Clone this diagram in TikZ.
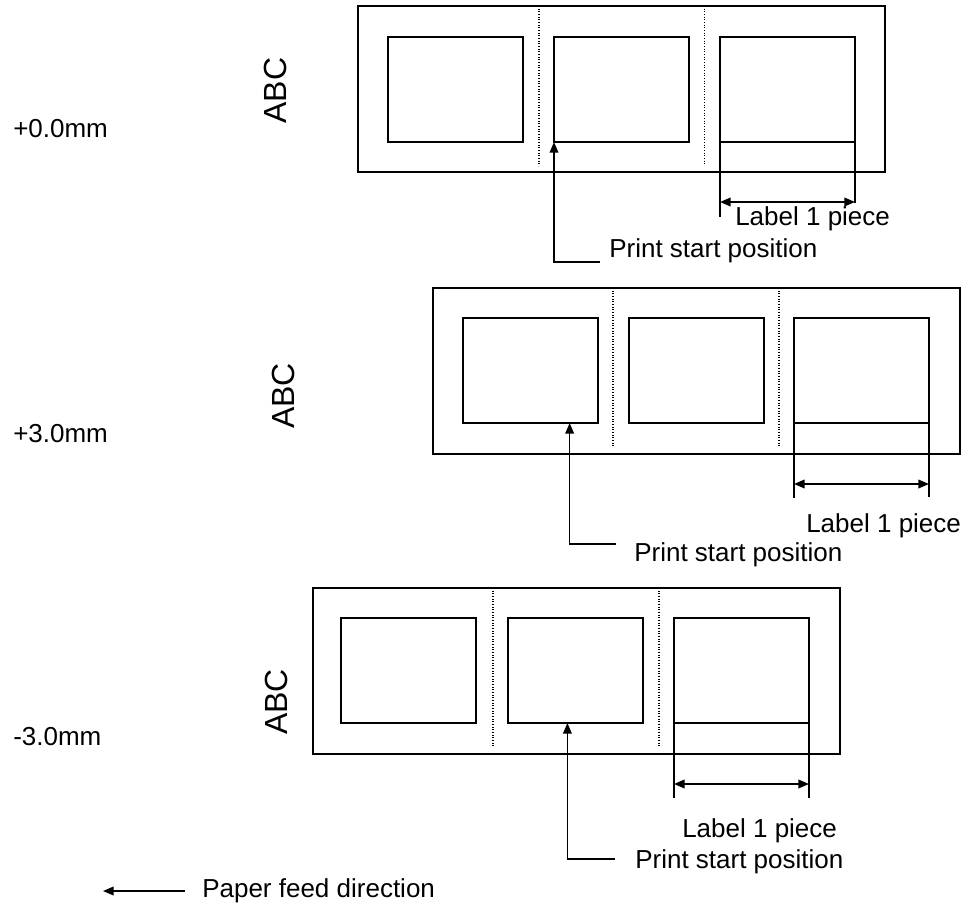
\documentclass[tikz,border=0pt]{standalone}
\usepackage{fontspec}
\setmainfont{Liberation Sans}
\usetikzlibrary{arrows.meta,calc}
\begin{document}
\begin{tikzpicture}[x=0.75pt,y=-0.75pt,
    strip/.style={draw,line width=1.5pt,anchor=north west,inner sep=0,outer sep=0,minimum width=395.25pt,minimum height=124.5pt},
    lbl/.style={draw,line width=1.5pt,anchor=north west,inner sep=0,outer sep=0,minimum width=101.25pt,minimum height=78.75pt},
    perf/.style={line width=0.8pt,dash pattern=on 0.8pt off 1.2pt},
    ext/.style={line width=1.2pt},
    pointer/.style={line width=1.2pt,-{Triangle[length=8pt,width=6.5pt]}},
    dimarrow/.style={line width=1.2pt,{Triangle[length=8pt,width=6.5pt]}-{Triangle[length=8pt,width=6.5pt]}},
    txt/.style={font=\fontsize{19.5}{23}\selectfont,inner sep=0,anchor=base west},
    abc/.style={font=\fontsize{24}{28}\selectfont,inner sep=0,rotate=90}]
  \useasboundingbox (0,0) rectangle (968,907);
  % offsets and ABC marks
  \node[txt] (o1) at (13,137) {+0.0mm};
  \node[txt] (o2) at (13,442) {+3.0mm};
  \node[txt] (o3) at (13,745) {-3.0mm};
  \node[abc] (abc1) at (275,90.5) {ABC};
  \node[abc] (abc2) at (283,396) {ABC};
  \node[abc] (abc3) at (276,702) {ABC};
  % +0.0mm
  \begin{scope}[shift={(358,6)}]
    \node[strip] (s1) at (0,0) {};
    \node[lbl] (s1a) at (30,31) {}; \node[lbl] (s1b) at (196,31) {}; \node[lbl] (s1c) at (362,31) {};
    \draw[perf] (181,0) -- (181,160); \draw[perf] (346.5,0) -- (346.5,160);
    \coordinate (s1l) at (362,211); \coordinate (s1r) at (497,197);
    \coordinate (s1m) at (362,196); \coordinate (s1n) at (497,196);
    \draw[ext] (s1c.south west) -- (s1l); \draw[ext] (s1c.south east) -- (s1r);
    \draw[dimarrow] (s1m) -- (s1n);
    \node[txt] (s1t) at (377,219) {Label 1 piece};
    \coordinate (s1p) at (242,256);
    \draw[pointer] (s1p) -| (s1b.south west);
    \node[txt] (s1q) at (251,251) {Print start position};
  \end{scope}
  % +3.0mm
  \begin{scope}[shift={(433,288)}]
    \node[strip] (s2) at (0,0) {};
    \node[lbl] (s2a) at (30,30) {}; \node[lbl] (s2b) at (196,30) {}; \node[lbl] (s2c) at (361,30) {};
    \draw[perf] (180,0) -- (180,158); \draw[perf] (346,0) -- (346,158);
    \coordinate (s2l) at (361,210); \coordinate (s2r) at (496,209);
    \coordinate (s2m) at (361,196); \coordinate (s2n) at (496,196);
    \draw[ext] (s2c.south west) -- (s2l); \draw[ext] (s2c.south east) -- (s2r);
    \draw[dimarrow] (s2m) -- (s2n);
    \node[txt] (s2t) at (373,244) {Label 1 piece};
    \coordinate (s2p) at (183,256);
    \draw[pointer] (s2p) -| ($(s2a.south west)!0.79!(s2a.south east)$);
    \node[txt] (s2q) at (201,273) {Print start position};
  \end{scope}
  % -3.0mm
  \begin{scope}[shift={(313,588)}]
    \node[strip] (s3) at (0,0) {};
    \node[lbl] (s3a) at (28,30) {}; \node[lbl] (s3b) at (195,30) {}; \node[lbl] (s3c) at (361,30) {};
    \draw[perf] (180,0) -- (180,159); \draw[perf] (346,0) -- (346,159);
    \coordinate (s3l) at (361,210); \coordinate (s3r) at (496,210);
    \coordinate (s3m) at (361,196); \coordinate (s3n) at (496,196);
    \draw[ext] (s3c.south west) -- (s3l); \draw[ext] (s3c.south east) -- (s3r);
    \draw[dimarrow] (s3m) -- (s3n);
    \node[txt] (s3t) at (369,249) {Label 1 piece};
    \coordinate (s3p) at (302,271);
    \draw[pointer] (s3p) -| ($(s3b.south west)!0.44!(s3b.south east)$);
    \node[txt] (s3q) at (322,280) {Print start position};
  \end{scope}
  % feed direction
  \coordinate (f1) at (185,891); \coordinate (f2) at (103,891);
  \draw[pointer] (f1) -- (f2);
  \node[txt] (feed) at (202,897) {Paper feed direction};
\end{tikzpicture}
\end{document}
